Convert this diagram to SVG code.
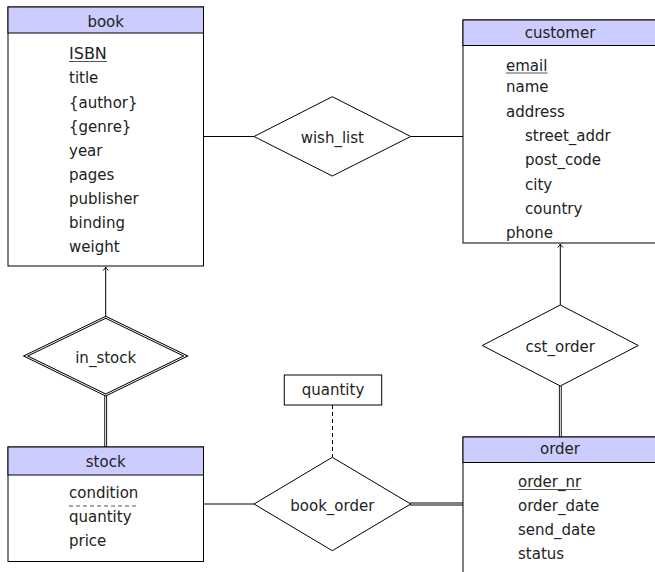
<svg xmlns="http://www.w3.org/2000/svg" width="655" height="572" viewBox="0 0 655 572">
<defs>
<style>
text{font-family:"DejaVu Sans","Liberation Sans",sans-serif;font-size:15px;fill:#222}
.c{text-anchor:middle}
.box{fill:#fff;stroke:#000;stroke-width:1}
.hdr{fill:#ccccff;stroke:#000;stroke-width:1}
.rel{fill:#fff;stroke:#000;stroke-width:1}
.ln{stroke:#000;stroke-width:1;fill:none}
.dbo{stroke:#000;stroke-width:2.8;fill:none}
.dbi{stroke:#fff;stroke-width:1;fill:none}
.ul{stroke:#555;stroke-width:1}
</style>
<marker id="arr" markerWidth="8" markerHeight="8" viewBox="-4 -4 8 8" refX="0" refY="0" orient="auto" markerUnits="userSpaceOnUse">
<path d="M-3.5,-2.6 Q-1.5,-0.6 0,0 Q-1.5,0.6 -3.5,2.6" fill="none" stroke="#000" stroke-width="1"/>
</marker>
</defs>

<g id="connectors">
<line class="ln" x1="203.5" y1="136.5" x2="254" y2="136.5"/>
<line class="ln" x1="410.7" y1="136.5" x2="463" y2="136.5"/>
<line class="ln" x1="203.5" y1="504" x2="254" y2="504"/>
<line class="dbo" x1="410" y1="504" x2="463" y2="504"/>
<line class="dbi" x1="410" y1="504" x2="463" y2="504"/>
<line class="ln" x1="105.7" y1="317.3" x2="105.7" y2="267" marker-end="url(#arr)"/>
<line class="ln" x1="560.3" y1="305" x2="560.3" y2="244" marker-end="url(#arr)"/>
<line class="dbo" x1="105.7" y1="395" x2="105.7" y2="447"/>
<line class="dbi" x1="105.7" y1="395" x2="105.7" y2="447"/>
<line class="dbo" x1="560.3" y1="386" x2="560.3" y2="437"/>
<line class="dbi" x1="560.3" y1="386" x2="560.3" y2="437"/>
<line class="ln" x1="332.5" y1="405" x2="332.5" y2="457.3" stroke-dasharray="4,3"/>
</g>

<g id="book">
<rect class="box" x="8" y="7" width="195.5" height="259"/>
<rect class="hdr" x="8" y="7" width="195.5" height="26"/>
<text class="c" x="105.7" y="27">book</text>
<text x="69" y="59.3" style="font-size:16px">ISBN</text>
<line class="ul" x1="69" y1="61.5" x2="107" y2="61.5"/>
<text x="69" y="83.4">title</text>
<text x="69" y="107.5">{author}</text>
<text x="69" y="131.6">{genre}</text>
<text x="69" y="155.7">year</text>
<text x="69" y="179.8">pages</text>
<text x="69" y="203.9">publisher</text>
<text x="69" y="228">binding</text>
<text x="69" y="252.1">weight</text>
</g>

<g id="customer">
<rect class="box" x="463" y="20" width="194" height="223"/>
<rect class="hdr" x="463" y="20" width="194" height="25.5"/>
<text class="c" x="560" y="37.5">customer</text>
<text x="506" y="71">email</text>
<line class="ul" x1="506" y1="73" x2="547.5" y2="73"/>
<text x="506" y="92.3">name</text>
<text x="506" y="116.7">address</text>
<text x="525" y="141">street_addr</text>
<text x="525" y="165.3">post_code</text>
<text x="525" y="189.6">city</text>
<text x="525" y="213.9">country</text>
<text x="506" y="238.2">phone</text>
</g>

<g id="wish_list">
<polygon class="rel" points="254,136.5 332.3,96.7 410.7,136.5 332.3,176"/>
<text class="c" x="332.3" y="143">wish_list</text>
</g>

<g id="in_stock">
<polygon class="dbo" fill="#fff" points="25.7,356 105.7,317.3 185.7,356 105.7,395"/>
<polygon class="dbi" points="25.7,356 105.7,317.3 185.7,356 105.7,395"/>
<text class="c" x="105.7" y="363">in_stock</text>
</g>

<g id="stock">
<rect class="box" x="8" y="447" width="195.5" height="114.5"/>
<rect class="hdr" x="8" y="447" width="195.5" height="28"/>
<text class="c" x="105.7" y="466.5">stock</text>
<text x="69" y="498.3">condition</text>
<line class="ul" x1="69" y1="506" x2="138.5" y2="506" stroke-dasharray="4,3"/>
<text x="69" y="521.8">quantity</text>
<text x="69" y="546">price</text>
</g>

<g id="cst_order">
<polygon class="rel" points="482.3,345.5 560.3,305 638.3,345.5 560.3,386"/>
<text class="c" x="560.3" y="352">cst_order</text>
</g>

<g id="quantity">
<rect class="box" x="284.3" y="375" width="97.4" height="30"/>
<text class="c" x="333" y="395">quantity</text>
</g>

<g id="book_order">
<polygon class="rel" points="254,504 332.3,457.3 410.7,504 332.3,550.7"/>
<text class="c" x="332.3" y="511">book_order</text>
</g>

<g id="order">
<rect class="box" x="463" y="437" width="194" height="140"/>
<rect class="hdr" x="463" y="437" width="194" height="25.5"/>
<text class="c" x="560" y="454">order</text>
<text x="518" y="487.3">order_nr</text>
<line class="ul" x1="518" y1="489.5" x2="581.5" y2="489.5"/>
<text x="518" y="510.8">order_date</text>
<text x="518" y="535">send_date</text>
<text x="518" y="559.2">status</text>
</g>
</svg>
